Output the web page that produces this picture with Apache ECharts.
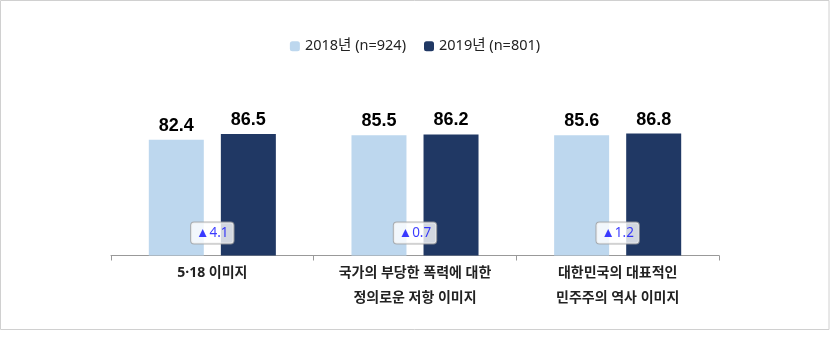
<!DOCTYPE html>
<html><head><meta charset="utf-8">
<script src="https://cdn.jsdelivr.net/npm/echarts@6/dist/echarts.min.js"></script>
<style>html,body{margin:0;padding:0;background:#fff}#c{width:830px;height:341px}</style>
</head><body><div id="c"></div>
<script>
const categories = ['5·18 이미지', '국가의 부당한 폭력에 대한\n정의로운 저항 이미지', '대한민국의 대표적인\n민주주의 역사 이미지'];
const seriesNames = ['2018년 (n=924)', '2019년 (n=801)'];
const values2018 = [82.4, 85.5, 85.6];
const values2019 = [86.5, 86.2, 86.8];
const diffs = values2019.map((v, i) => Math.round((v - values2018[i]) * 10) / 10);

const ANNOT_Y = 16;
const chart = echarts.init(document.getElementById('c'));
const valueLabel = {show: true, position: 'top', distance: 5, color: '#000', fontSize: 18, fontWeight: 'bold', fontFamily: 'Liberation Sans, Arial, sans-serif'};
chart.setOption({
  animation: false,
  graphic: [{type: 'rect', shape: {x: 0.5, y: 0.5, width: 828.5, height: 329}, style: {fill: 'none', stroke: '#d0d0d0', lineWidth: 1}, silent: true}],
  legend: {
    data: seriesNames, top: 34, left: 'center', itemWidth: 10, itemHeight: 10, itemGap: 18,
    textStyle: {fontSize: 14.5, color: '#222', fontFamily: 'Noto Sans, Noto Sans CJK KR, sans-serif'}
  },
  grid: {left: 111, right: 111, top: 115, bottom: 85.5},
  xAxis: {
    type: 'category', data: categories,
    axisLine: {lineStyle: {color: '#999'}},
    axisTick: {show: true, length: 5, lineStyle: {color: '#999'}},
    axisLabel: {interval: 0, margin: 5, lineHeight: 25, fontSize: 14, fontWeight: 'bold', color: '#222', fontFamily: 'Noto Sans, Noto Sans CJK KR, sans-serif'}
  },
  yAxis: {type: 'value', min: 0, max: 100, show: false, splitLine: {show: false}},
  series: [
    {name: seriesNames[0], type: 'bar', data: values2018, barWidth: 55, barGap: '31%', itemStyle: {color: '#BDD7EE'}, label: valueLabel},
    {name: seriesNames[1], type: 'bar', data: values2019, barWidth: 55, itemStyle: {color: '#203864'}, label: valueLabel},
    {
      type: 'scatter', data: diffs.map(() => ANNOT_Y), symbolSize: 0, z: 10,
      label: {
        show: true, position: 'inside',
        formatter: p => '▲' + diffs[p.dataIndex].toFixed(1),
        color: '#0a0aff', fontSize: 13.5, fontFamily: 'Noto Sans, sans-serif',
        backgroundColor: '#fff', borderColor: '#a0a0a0', borderWidth: 1, borderRadius: 3,
        padding: [4, 5, 3, 5]
      }
    }
  ]
});
</script></body></html>
